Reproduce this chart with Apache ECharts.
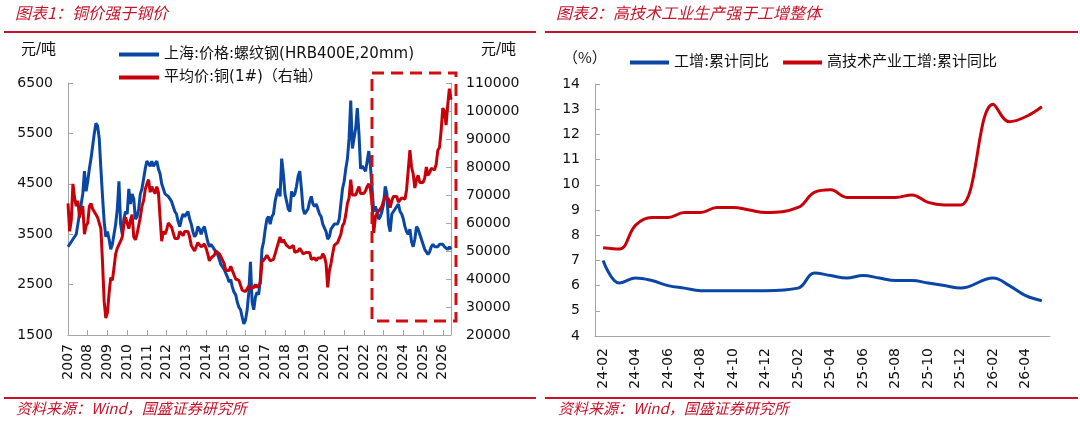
<!DOCTYPE html>
<html><head><meta charset="utf-8">
<script src="https://cdn.jsdelivr.net/npm/echarts@6/dist/echarts.min.js"></script>
<style>html,body{margin:0;padding:0;background:#fff}#c{width:1080px;height:424px}</style>
</head><body><div id="c"></div>
<script>
// ---------- Left chart data (monthly, 2007-01 .. 2026-06) ----------
const leftYears = [2007,2008,2009,2010,2011,2012,2013,2014,2015,2016,2017,2018,2019,2020,2021,2022,2023,2024,2025,2026];
const lastYearMonths = 6;
// 上海:价格:螺纹钢(HRB400E,20mm)  元/吨 (left axis)
const rebar = [
 3250,3300,3350,3400,3450,3500,3700,3900,4100,4300,4750,4350, // 2007
 4550,4800,5000,5250,5500,5700,5650,5400,4800,4250,3750,3450, // 2008
 3550,3400,3200,3300,3500,3700,4000,4550,3700,3500,3800,3950, // 2009
 3900,4400,4100,4300,4200,3800,3850,4000,4300,4400,4600,4800, // 2010
 4950,4900,4850,4950,4850,4900,4950,4800,4700,4500,4400,4300, // 2011
 4300,4250,4200,4150,4050,3950,3900,3750,3650,3800,3900,3850, // 2012
 3900,3950,3800,3700,3550,3450,3500,3650,3600,3500,3600,3650, // 2013
 3500,3350,3250,3300,3250,3200,3150,3100,3000,2900,2850,2800, // 2014
 2800,2650,2550,2600,2450,2350,2300,2150,2050,2000,1850,1720, // 2015
 1800,2000,2350,2950,2150,2000,2250,2350,2300,2600,3200,3350, // 2016
 3600,3800,3850,3700,3850,3900,4150,4300,4400,4250,5000,4700, // 2017
 4300,4150,4000,3950,4350,4250,4300,4450,4650,4750,4400,4000, // 2018
 3900,3950,4000,4150,4250,4100,4050,4100,4000,3900,3850,3700, // 2019
 3700,3550,3400,3450,3600,3650,3700,3700,3700,3800,4100,4400, // 2020
 4550,4800,5000,5400,6150,5200,5400,5600,6000,5500,4800,4850, // 2021
 4800,4750,4950,5150,4850,4400,3950,4050,3950,3800,3850,3950, // 2022
 4100,4450,4300,3700,3550,3900,3950,4000,4050,4100,3950,3900, // 2023
 3800,3650,3550,3500,3600,3350,3250,3400,3650,3600,3500,3400, // 2024
 3300,3200,3150,3100,3150,3250,3300,3250,3250,3250,3300,3300, // 2025
 3300,3250,3250,3200,3250,3200                                // 2026
];
// 平均价:铜(1#)  元/吨 (right axis)
const copper = [
 67000,57000,61000,74000,69000,66000,68000,62000,65000,66000,56000,59000, // 2007
 60000,66000,67000,65000,64000,63000,62000,60000,58000,46000,32000,26000, // 2008
 28000,35000,40500,39500,44000,49000,51000,51500,53500,55000,59500,62000, // 2009
 62000,58000,61000,63000,55000,54000,56000,59000,62000,66000,68000,72000, // 2010
 74000,75500,71000,73000,71500,70500,73000,71000,62000,53500,57000,56000, // 2011
 57500,60000,59500,58500,56500,54500,55000,54500,57000,56500,55500,57000, // 2012
 57500,57000,55000,52000,51500,50000,51500,53000,52500,51500,52000,52500, // 2013
 51000,49000,46500,47500,48000,48500,50000,50500,49000,48000,47500,45500, // 2014
 43000,43500,43000,44500,45000,41500,40000,39500,39500,39000,36000,36500, // 2015
 35500,36500,37500,36500,36000,37000,38000,37000,37000,38500,46000,45500, // 2016
 47500,48500,47500,46500,46000,47000,49000,51000,51500,55000,53000,54000, // 2017
 54500,52000,51500,51000,51500,52000,49500,49000,50000,51000,50000,49000, // 2018
 48500,49500,50000,49500,47000,47500,47500,46500,47500,47500,47500,49000, // 2019
 48000,45500,37000,43000,45500,49000,52000,52500,53000,53500,56000,59000, // 2020
 60000,63000,67000,69000,75500,70000,69500,70000,70500,73000,70500,70000, // 2021
 70500,71500,73000,74000,72000,67000,56500,62000,63500,63500,65000,66000, // 2022
 68000,69500,69000,68500,65500,68000,69500,69500,69500,67500,68000,69000, // 2023
 68500,68500,72000,79000,86000,80000,77500,72500,75500,77000,74500,74000, // 2024
 74500,76000,80000,77000,78000,79500,79000,79000,81000,86000,87000,93000, // 2025
 101000,100000,95000,102000,108000,104000                                 // 2026
];
// ---------- Right chart data ----------
const rightCats = ['24-02','24-03','24-04','24-05','24-06','24-07','24-08','24-09','24-10','24-11','24-12',
 '25-01','25-02','25-03','25-04','25-05','25-06','25-07','25-08','25-09','25-10','25-11','25-12',
 '26-01','26-02','26-03','26-04','26-05'];
const ipGrowth = [7.0,6.1,6.3,6.2,6.0,5.9,5.8,5.8,5.8,5.8,5.8, null,5.9,6.5,6.4,6.3,6.4,6.3,6.2,6.2,6.1,6.0,5.9, null,6.3,6.0,5.6,5.4];
const hiTechGrowth = [7.5,7.45,8.4,8.7,8.7,8.9,8.9,9.1,9.1,9.0,8.9, null,9.1,9.7,9.8,9.5,9.5,9.5,9.5,9.6,9.3,9.2,9.2, null,13.2,12.5,12.7,13.1];

const leftCats = [];
leftYears.forEach((y, i) => {
  const n = i === leftYears.length - 1 ? lastYearMonths : 12;
  for (let m = 1; m <= n; m++) leftCats.push(y + '-' + (m < 10 ? '0' + m : m));
});

const BLUE = '#0a47a4', RED = '#c8000a', TRED = '#c8142a', AX = '#a6a6a6';
const FONT = "'DejaVu Sans', 'Noto Sans CJK SC', sans-serif";
const CJK = "'Noto Sans CJK SC', sans-serif";
const isJan = (i, v) => v.slice(5) === '01';
const plain = v => String(v);

const chart = echarts.init(document.getElementById('c'), null, {renderer: 'canvas'});
const lab = {fontSize: 14, color: '#111', fontFamily: FONT};
const option = {
  animation: false,
  backgroundColor: '#fff',
  grid: [
    {left: 68, right: 629, top: 83, bottom: 89},
    {left: 595, right: 30, top: 84, bottom: 88}
  ],
  xAxis: [
    {type: 'category', gridIndex: 0, data: leftCats, boundaryGap: false,
     axisLine: {lineStyle: {color: AX}},
     axisTick: {inside: true, length: 5, interval: isJan, lineStyle: {color: AX}},
     axisLabel: Object.assign({interval: isJan, rotate: 90, margin: 9, formatter: v => v.slice(0, 4)}, lab)},
    {type: 'category', gridIndex: 1, data: rightCats, boundaryGap: true,
     axisLine: {lineStyle: {color: AX}},
     axisTick: {inside: true, length: 5, interval: 1, lineStyle: {color: AX}},
     axisLabel: Object.assign({interval: 1, rotate: 90, margin: 12}, lab)}
  ],
  yAxis: [
    {type: 'value', gridIndex: 0, position: 'left', min: 1500, max: 6500, interval: 1000,
     axisLine: {show: true, lineStyle: {color: AX}},
     axisTick: {show: true, inside: true, length: 5, lineStyle: {color: AX}},
     splitLine: {show: false}, axisLabel: Object.assign({margin: 15, formatter: plain}, lab)},
    {type: 'value', gridIndex: 0, position: 'right', min: 20000, max: 110000, interval: 10000,
     axisLine: {show: true, lineStyle: {color: AX}},
     axisTick: {show: true, inside: true, length: 5, lineStyle: {color: AX}},
     splitLine: {show: false}, axisLabel: Object.assign({margin: 15, formatter: plain}, lab)},
    {type: 'value', gridIndex: 1, position: 'left', min: 4, max: 14, interval: 1,
     axisLine: {show: true, lineStyle: {color: AX}},
     axisTick: {show: true, inside: true, length: 5, lineStyle: {color: AX}},
     splitLine: {show: false}, axisLabel: Object.assign({margin: 15, formatter: plain}, lab)}
  ],
  legend: [
    {data: ['上海:价格:螺纹钢(HRB400E,20mm)', '平均价:铜(1#)（右轴）'], orient: 'vertical',
     left: 114, top: 41, itemWidth: 40, itemHeight: 4, icon: 'rect', itemGap: 6,
     textStyle: {fontSize: 15, color: '#111', fontFamily: FONT, lineHeight: 17}},
    {data: ['工增:累计同比', '高技术产业工增:累计同比'], orient: 'horizontal',
     left: 625, top: 50, itemWidth: 39, itemHeight: 4, icon: 'rect', itemGap: 14,
     textStyle: {fontSize: 15, color: '#111', fontFamily: FONT}}
  ],
  series: [
    {name: '上海:价格:螺纹钢(HRB400E,20mm)', type: 'line', xAxisIndex: 0, yAxisIndex: 0, data: rebar,
     showSymbol: false, lineStyle: {color: BLUE, width: 3}, itemStyle: {color: BLUE}},
    {name: '平均价:铜(1#)（右轴）', type: 'line', xAxisIndex: 0, yAxisIndex: 1, data: copper,
     showSymbol: false, lineStyle: {color: RED, width: 3}, itemStyle: {color: RED}},
    {name: '工增:累计同比', type: 'line', xAxisIndex: 1, yAxisIndex: 2, data: ipGrowth,
     smooth: 0.4, connectNulls: true, showSymbol: false,
     lineStyle: {color: BLUE, width: 3}, itemStyle: {color: BLUE}},
    {name: '高技术产业工增:累计同比', type: 'line', xAxisIndex: 1, yAxisIndex: 2, data: hiTechGrowth,
     smooth: 0.4, connectNulls: true, showSymbol: false,
     lineStyle: {color: RED, width: 3}, itemStyle: {color: RED}}
  ],
  graphic: [
    {type: 'text', left: 15, top: 5, style: {text: '图表1：铜价强于钢价', fill: TRED, fontSize: 16, fontStyle: 'italic', fontFamily: CJK}},
    {type: 'text', left: 556, top: 5, style: {text: '图表2：高技术工业生产强于工增整体', fill: TRED, fontSize: 16, fontStyle: 'italic', fontFamily: CJK}},
    {type: 'line', shape: {x1: 4, y1: 32, x2: 536, y2: 32}, style: {stroke: TRED, lineWidth: 2}},
    {type: 'line', shape: {x1: 545, y1: 32, x2: 1078, y2: 32}, style: {stroke: TRED, lineWidth: 2}},
    {type: 'line', shape: {x1: 4, y1: 398, x2: 536, y2: 398}, style: {stroke: TRED, lineWidth: 2}},
    {type: 'line', shape: {x1: 545, y1: 398, x2: 1078, y2: 398}, style: {stroke: TRED, lineWidth: 2}},
    {type: 'text', left: 16, top: 401, style: {text: '资料来源：Wind，国盛证券研究所', fill: TRED, fontSize: 15, fontStyle: 'italic', fontFamily: CJK}},
    {type: 'text', left: 558, top: 401, style: {text: '资料来源：Wind，国盛证券研究所', fill: TRED, fontSize: 15, fontStyle: 'italic', fontFamily: CJK}},
    {type: 'text', left: 21, top: 43, style: {text: '元/吨', fill: '#111', fontSize: 15, fontFamily: FONT}},
    {type: 'text', left: 481, top: 43, style: {text: '元/吨', fill: '#111', fontSize: 15, fontFamily: FONT}},
    {type: 'text', left: 563, top: 50, style: {text: '（%）', fill: '#111', fontSize: 15, fontFamily: CJK}},
    {type: 'rect', z: 100, shape: {x: 372, y: 73, width: 84, height: 248},
     style: {fill: 'none', stroke: '#d01010', lineWidth: 3, lineDash: [12, 7]}}
  ]
};
chart.setOption(option);
</script>
</body></html>
